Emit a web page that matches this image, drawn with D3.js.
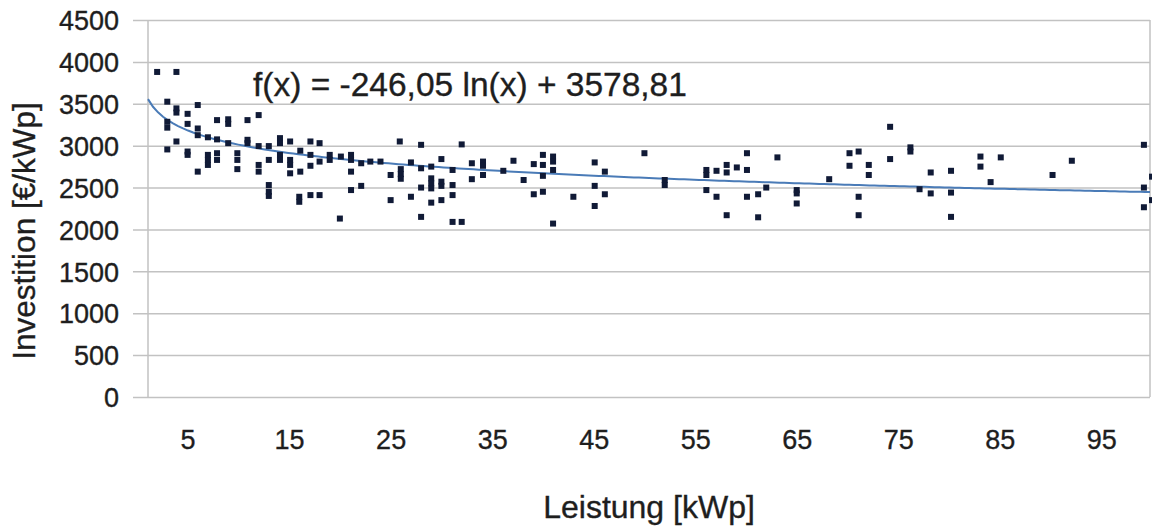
<!DOCTYPE html>
<html>
<head>
<meta charset="utf-8">
<script src="https://cdn.jsdelivr.net/npm/d3@7"></script>
<style>
  html, body { margin: 0; padding: 0; background: #fff; }
  text { font-family: "Liberation Sans", Arial, sans-serif; fill: #1e1e1e; stroke: #1e1e1e; stroke-width: 0.35px; }
</style>
</head>
<body>
<div id="chart"></div>
<script>
// Leistung [kWp] and Investition [€/kWp]
const leistung = [
  2.0, 3.9, 3.0, 3.9, 3.9, 5.0, 6.0, 3.0, 3.0, 5.0, 6.0, 6.0, 7.0, 7.9, 9.0, 9.0, 7.9, 9.0,
  10.9, 12.0, 10.9, 10.9, 12.0, 13.0, 3.0, 3.9, 5.0, 5.0, 6.0, 7.0, 7.0, 7.0, 7.9, 7.9,
  9.9, 9.9, 9.9, 12.0, 12.0, 13.0, 13.0, 13.0, 13.0,
  14.1, 14.1, 14.1, 14.1, 15.1, 15.1, 15.1, 15.1, 16.1, 16.1, 17.1, 18.0, 17.1, 17.1, 18.0,
  19.0, 19.0, 20.1, 21.1, 21.1, 21.1, 22.1, 23.0, 24.0, 16.0, 16.0, 17.1, 18.0, 20.0, 21.1,
  22.1, 25.0, 25.0, 25.9,
  28.0, 32.0, 26.0, 26.0, 26.0, 27.0, 28.0, 29.0, 30.0, 31.1, 29.0, 29.0, 30.0, 30.0, 28.0,
  29.0, 31.1, 31.1, 30.0, 29.0, 27.0, 28.0, 31.1, 32.0, 33.0, 34.1, 34.1, 33.0, 34.1, 36.1,
  37.1, 38.1, 39.1, 40.0, 40.0, 41.0, 41.0, 41.0, 40.0, 39.1, 40.0, 41.0, 43.0, 45.1, 46.1,
  45.1, 46.1, 45.1, 50.0,
  52.0, 52.0, 56.1, 56.1, 56.1, 57.1, 58.1, 58.1, 59.1, 60.1, 60.1, 57.1, 58.1, 60.1, 61.2,
  61.2, 62.0, 63.1, 65.0, 65.0, 65.0, 68.2, 70.2, 71.1, 70.2, 72.1, 72.1, 71.1, 71.1, 74.2, 74.2,
  76.2, 76.2, 78.2, 80.2, 77.1, 78.2, 80.2, 80.2, 83.1, 83.1, 85.1, 84.1, 90.2, 92.1,
  99.2, 99.2, 99.2, 100.0, 100.0
];
const investition = [
  3880, 3880, 3525, 3445, 3395, 3380, 3485, 3285, 3215, 3260, 3205, 3125, 3100, 3305, 3315, 3260, 3075, 3030,
  3305, 3365, 3070, 3030, 2995, 2995, 2955, 3050, 2930, 2890, 2690, 2890, 2830, 2770, 2910, 2830,
  2910, 2830, 2720, 2770, 2690, 2830, 2530, 2450, 2400,
  3090, 3030, 2890, 2830, 3050, 2830, 2770, 2670, 2940, 2690, 3050, 3030, 2890, 2760, 2810,
  2890, 2830, 2870, 2890, 2830, 2690, 2790, 2810, 2810, 2390, 2330, 2410, 2410, 2130, 2470,
  2520, 2350, 2650, 3050,
  3010, 3015, 2720, 2660, 2605, 2800, 2730, 2750, 2840, 2710, 2610, 2550, 2570, 2520, 2500,
  2490, 2530, 2410, 2350, 2320, 2390, 2150, 2090, 2090, 2790, 2810, 2760, 2600, 2650, 2700,
  2820, 2590, 2780, 2890, 2770, 2870, 2810, 2710, 2640, 2420, 2450, 2070, 2390, 2800, 2690,
  2520, 2420, 2280, 2910,
  2590, 2530, 2710, 2650, 2470, 2700, 2770, 2680, 2740, 2910, 2710, 2390, 2170, 2390, 2420,
  2145, 2500, 2860, 2470, 2430, 2310, 2600, 2910, 2930, 2760, 2770, 2650, 2390, 2170, 3225, 2840,
  2980, 2930, 2680, 2700, 2480, 2430, 2440, 2150, 2870, 2750, 2860, 2565, 2650, 2820,
  3010, 2500, 2265, 2630, 2350
];

const xTicks = [5, 15, 25, 35, 45, 55, 65, 75, 85, 95];
const yTicks = [0, 500, 1000, 1500, 2000, 2500, 3000, 3500, 4000, 4500];

// logarithmic trend line as printed on the chart
const trendA = -246.05;
const trendB = 3578.81;
const trendLabel = "f(x) = -246,05 ln(x) + 3578,81";

const width = 1152;
const height = 528;
const plot = { left: 148, right: 1150, top: 20, bottom: 397 };
const gridColor = "#c2c2c2";

const svg = d3.select("#chart")
    .append("svg")
    .attr("width", width)
    .attr("height", height);

svg.append("rect")
    .attr("width", width)
    .attr("height", height)
    .attr("fill", "#fff");

const x = d3.scaleLinear().domain([1.1, 99.8]).range([plot.left, plot.right]);
const y = d3.scaleLinear().domain([0, 4500]).range([plot.bottom, plot.top]);

// horizontal grid, each line sticking out 15px left of the axis
const yAxis = d3.axisLeft(y)
    .tickValues(yTicks)
    .tickSize(-(plot.right - plot.left))
    .tickFormat(d3.format("d"));

svg.append("g")
    .attr("transform", `translate(${plot.left},0)`)
    .call(yAxis)
    .call(g => g.select(".domain").remove())
    .call(g => g.selectAll(".tick line")
        .attr("x1", -15)
        .attr("stroke", gridColor)
        .attr("stroke-width", 1.5))
    .call(g => g.selectAll(".tick text")
        .attr("x", 119 - plot.left)
        .attr("dy", "0.36em")
        .attr("font-size", 27));

// left axis and right frame lines
svg.append("line")
    .attr("x1", plot.left).attr("x2", plot.left)
    .attr("y1", plot.top).attr("y2", plot.bottom)
    .attr("stroke", gridColor).attr("stroke-width", 1.5);
svg.append("line")
    .attr("x1", plot.right).attr("x2", plot.right)
    .attr("y1", plot.top).attr("y2", plot.bottom)
    .attr("stroke", gridColor).attr("stroke-width", 1.5);

const xAxis = d3.axisBottom(x)
    .tickValues(xTicks)
    .tickSize(0)
    .tickPadding(0)
    .tickFormat(d3.format("d"));

svg.append("g")
    .attr("transform", `translate(0,${plot.bottom})`)
    .call(xAxis)
    .call(g => g.select(".domain").remove())
    .call(g => g.selectAll(".tick text")
        .attr("y", 52)
        .attr("dy", 0)
        .attr("font-size", 27));

// trend line
const trendXs = d3.range(0, 201).map(i => x.domain()[0] + (x.domain()[1] - x.domain()[0]) * i / 200);
svg.append("path")
    .datum(trendXs)
    .attr("fill", "none")
    .attr("stroke", "#4a7bb7")
    .attr("stroke-width", 2)
    .attr("d", d3.line()
        .x(d => x(d))
        .y(d => y(trendA * Math.log(d) + trendB)));

// scatter markers
const points = leistung.map((v, i) => ({ x: v, y: investition[i] }));
svg.append("g")
    .selectAll("rect")
    .data(points)
    .join("rect")
    .attr("x", d => x(d.x) - 3)
    .attr("y", d => y(d.y) - 3)
    .attr("width", 6)
    .attr("height", 6)
    .attr("fill", "#101a36");

svg.append("text")
    .attr("x", 253)
    .attr("y", 96)
    .attr("font-size", 33.5)
    .text(trendLabel);

svg.append("text")
    .attr("x", 649)
    .attr("y", 518)
    .attr("text-anchor", "middle")
    .attr("font-size", 32)
    .text("Leistung [kWp]");

svg.append("text")
    .attr("transform", "translate(35,231) rotate(-90)")
    .attr("text-anchor", "middle")
    .attr("font-size", 31.5)
    .text("Investition [€/kWp]");
</script>
</body>
</html>
